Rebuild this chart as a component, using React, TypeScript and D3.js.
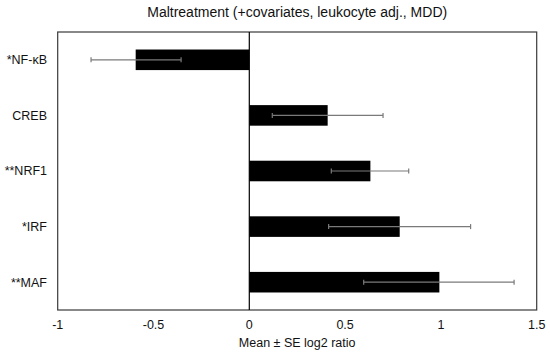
import React from 'react';
import * as d3 from 'd3';

const genes = ['*NF-κB', 'CREB', '**NRF1', '*IRF', '**MAF'];
const means = [-0.593, 0.409, 0.632, 0.785, 0.992];
const lowerErr = [-0.826, 0.12, 0.428, 0.414, 0.597];
const upperErr = [-0.356, 0.698, 0.832, 1.155, 1.382];
const xTicks = [-1, -0.5, 0, 0.5, 1, 1.5];

const width = 550;
const height = 354;
const margin = { top: 32, right: 13.3, bottom: 44, left: 57.7 };
const font = '"Liberation Sans", Arial, sans-serif';

export default function App() {
  const x = d3.scaleLinear()
    .domain([-1, 1.5])
    .range([margin.left, width - margin.right]);

  const y = d3.scaleBand<string>()
    .domain(genes)
    .range([margin.top, height - margin.bottom])
    .paddingInner(0.63)
    .paddingOuter(0.315);

  const bh = y.bandwidth();
  const plotBottom = height - margin.bottom;

  return (
    <svg width={width} height={height}
      style={{ position: 'absolute', left: 0, top: 0, background: '#fff' }}
      fontFamily={font}>
      <text x={(margin.left + width - margin.right) / 2} y={17}
        textAnchor="middle" fontSize={14} fill="#111">
        Maltreatment (+covariates, leukocyte adj., MDD)
      </text>

      <rect x={margin.left} y={margin.top}
        width={x(1.5) - x(-1)} height={plotBottom - margin.top}
        fill="none" stroke="#3a3a3a" strokeWidth={1.2} />

      {genes.map((g, i) => {
        const v = means[i];
        const yc = (y(g) as number) + bh / 2;
        return (
          <g key={g}>
            <rect x={Math.min(x(0), x(v))} y={y(g)}
              width={Math.abs(x(v) - x(0))} height={bh} fill="#000" />
            <line x1={x(lowerErr[i])} x2={x(upperErr[i])} y1={yc} y2={yc}
              stroke="#7a7a7a" strokeWidth={1.2} />
            <line x1={x(lowerErr[i])} x2={x(lowerErr[i])} y1={yc - 2.5} y2={yc + 2.5}
              stroke="#7a7a7a" strokeWidth={1.2} />
            <line x1={x(upperErr[i])} x2={x(upperErr[i])} y1={yc - 2.5} y2={yc + 2.5}
              stroke="#7a7a7a" strokeWidth={1.2} />
            <text x={47} y={yc} dy="0.35em" textAnchor="end"
              fontSize={12.5} fill="#111">{g}</text>
          </g>
        );
      })}

      <line x1={x(0)} x2={x(0)} y1={margin.top} y2={plotBottom}
        stroke="#000" strokeWidth={1.2} />

      {xTicks.map(t => (
        <text key={t} x={x(t)} y={plotBottom + 19} textAnchor="middle"
          fontSize={12.5} fill="#111">{t}</text>
      ))}

      <text x={(margin.left + width - margin.right) / 2} y={plotBottom + 37}
        textAnchor="middle" fontSize={12.5} fill="#111">
        Mean ± SE log2 ratio
      </text>
    </svg>
  );
}
